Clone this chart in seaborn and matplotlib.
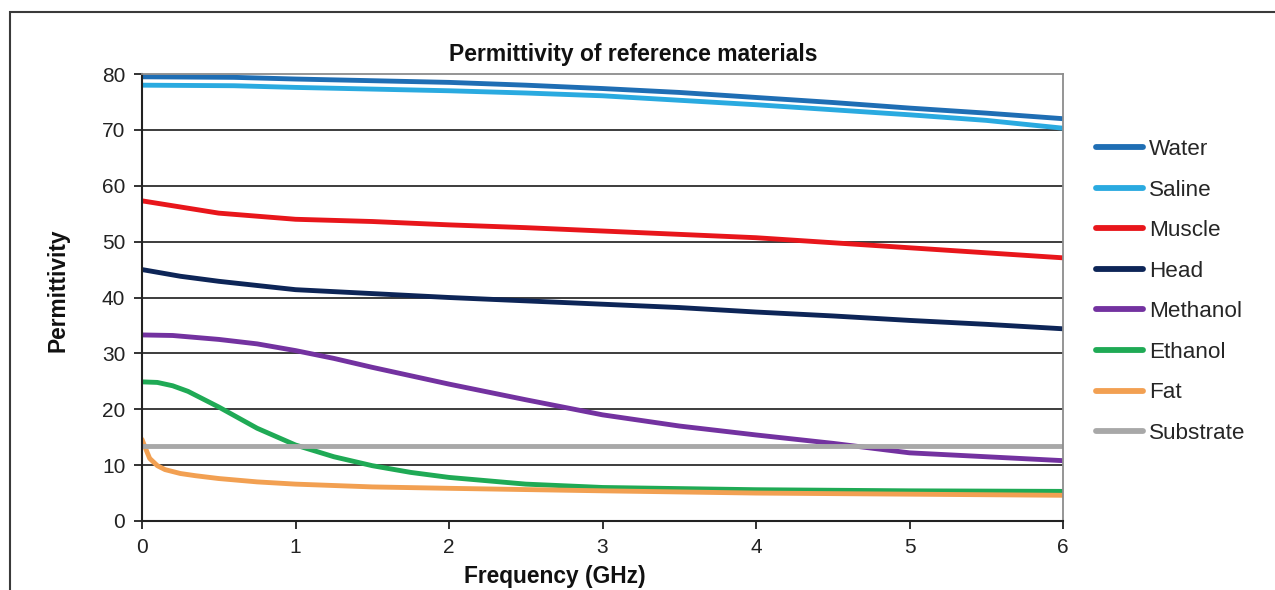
import matplotlib
matplotlib.use("Agg")
import matplotlib.pyplot as plt
import seaborn as sns
import pandas as pd
from matplotlib.patches import Rectangle

# ---- data ----
materials = ["Water", "Saline", "Muscle", "Head", "Methanol", "Ethanol", "Fat", "Substrate"]

water_f = [0, 0.6, 1.0, 1.5, 2.0, 2.5, 3.0, 3.5, 4.0, 4.5, 5.0, 5.5, 6.0]
water_e = [79.5, 79.4, 79.1, 78.8, 78.5, 78.0, 77.4, 76.7, 75.8, 74.9, 73.9, 73.0, 72.0]

saline_f = [0, 0.6, 1.0, 1.5, 2.0, 2.5, 3.0, 3.5, 4.0, 4.5, 5.0, 5.5, 6.0]
saline_e = [78.0, 77.9, 77.6, 77.3, 77.0, 76.6, 76.1, 75.3, 74.5, 73.6, 72.7, 71.7, 70.3]

muscle_f = [0, 0.25, 0.5, 1.0, 1.5, 2.0, 2.5, 3.0, 3.5, 4.0, 4.5, 5.0, 5.5, 6.0]
muscle_e = [57.3, 56.2, 55.1, 54.0, 53.6, 53.0, 52.5, 51.9, 51.3, 50.7, 49.8, 48.9, 48.0, 47.1]

head_f = [0, 0.25, 0.5, 1.0, 1.5, 2.0, 2.5, 3.0, 3.5, 4.0, 4.5, 5.0, 5.5, 6.0]
head_e = [45.0, 43.8, 42.9, 41.4, 40.7, 40.0, 39.4, 38.8, 38.2, 37.4, 36.7, 35.9, 35.2, 34.4]

methanol_f = [0, 0.2, 0.5, 0.75, 1.0, 1.25, 1.5, 1.75, 2.0, 2.5, 3.0, 3.5, 4.0, 4.5, 5.0, 5.5, 6.0]
methanol_e = [33.3, 33.2, 32.5, 31.7, 30.5, 29.1, 27.5, 26.0, 24.5, 21.7, 19.0, 17.0, 15.4, 13.9, 12.2, 11.5, 10.8]

ethanol_f = [0, 0.1, 0.2, 0.3, 0.5, 0.75, 1.0, 1.25, 1.5, 1.75, 2.0, 2.5, 3.0, 3.5, 4.0, 5.0, 6.0]
ethanol_e = [24.9, 24.8, 24.2, 23.2, 20.4, 16.6, 13.6, 11.5, 9.9, 8.7, 7.8, 6.6, 6.0, 5.8, 5.6, 5.4, 5.3]

fat_f = [0, 0.02, 0.05, 0.1, 0.15, 0.25, 0.35, 0.5, 0.75, 1.0, 1.5, 2.0, 3.0, 4.0, 5.0, 6.0]
fat_e = [14.6, 13.2, 11.2, 9.9, 9.2, 8.5, 8.1, 7.6, 7.0, 6.6, 6.1, 5.85, 5.4, 5.0, 4.8, 4.6]

substrate_f = [0, 6]
substrate_e = [13.5, 13.5]

x_ticks = [0, 1, 2, 3, 4, 5, 6]
y_ticks = [0, 10, 20, 30, 40, 50, 60, 70, 80]

colors = ["#1F6EB4", "#2AAAE0", "#E8161B", "#0D2557", "#7332A0", "#1FAA55", "#F2A052", "#A8A8A8"]

series = {
    "Water": (water_f, water_e),
    "Saline": (saline_f, saline_e),
    "Muscle": (muscle_f, muscle_e),
    "Head": (head_f, head_e),
    "Methanol": (methanol_f, methanol_e),
    "Ethanol": (ethanol_f, ethanol_e),
    "Fat": (fat_f, fat_e),
    "Substrate": (substrate_f, substrate_e),
}

rows = []
for name in materials:
    f, e = series[name]
    for fi, ei in zip(f, e):
        rows.append({"Frequency": fi, "Permittivity": ei, "Material": name})
df = pd.DataFrame(rows)

# ---- style ----
sns.set_theme(style="white")
plt.rcParams["font.family"] = ["Liberation Sans", "DejaVu Sans"]

fig = plt.figure(figsize=(12.75, 5.9), dpi=100)
ax = fig.add_axes([142 / 1275, 69 / 590, 921 / 1275, 447 / 590])

# outer chart frame
fig.patches.append(Rectangle((10 / 1275, -0.1), 1.2, 1 - 12 / 590 + 0.1,
                             transform=fig.transFigure, fill=False,
                             edgecolor="#3a3a3a", linewidth=1.5, zorder=0))

sns.lineplot(data=df, x="Frequency", y="Permittivity", hue="Material",
             hue_order=materials, palette=colors, linewidth=3.5,
             estimator=None, sort=False, ax=ax, legend=True)

ax.set_xlim(0, 6)
ax.set_ylim(0, 80)
ax.set_xticks(x_ticks)
ax.set_yticks(y_ticks)
ax.set_xticklabels([str(t) for t in x_ticks], fontsize=15, color="#222222")
ax.set_yticklabels([str(t) for t in y_ticks], fontsize=15, color="#222222")
ax.tick_params(axis="both", which="both", direction="out", length=6, width=1.3,
               color="#222222", left=True, bottom=True, pad=6)
for y in y_ticks[1:-1]:
    ax.axhline(y, color="#3c3c3c", linewidth=1.4, zorder=0.5)

for s in ["left", "bottom"]:
    ax.spines[s].set_color("#222222")
    ax.spines[s].set_linewidth(1.5)
for s in ["top", "right"]:
    ax.spines[s].set_color("#8c8c8c")
    ax.spines[s].set_linewidth(1.3)

ax.set_xlabel("")
ax.set_ylabel("")
fig.text(555 / 1275, 1 - 577 / 590, "Frequency (GHz)", ha="center", va="center",
         fontsize=16.4, fontweight="bold", color="#111111")
fig.text(58 / 1275, 1 - 290 / 590, "Permittivity", ha="center", va="center",
         rotation=90, fontsize=16.4, fontweight="bold", color="#111111")
fig.text(633 / 1275, 1 - 55 / 590, "Permittivity of reference materials", ha="center",
         va="center", fontsize=16.5, fontweight="bold", color="#111111")

handles, labels = ax.get_legend_handles_labels()
if ax.legend_:
    ax.legend_.remove()
for h in handles:
    h.set_linewidth(4.2)
fig.legend(handles, labels, loc="upper left",
           bbox_to_anchor=(1096 / 1275, 1 - 139 / 590), frameon=False,
           fontsize=16.2, handlelength=2.1, handletextpad=0.25, labelspacing=0.87,
           borderaxespad=0, borderpad=0)

fig.savefig("out.png", dpi=100)
